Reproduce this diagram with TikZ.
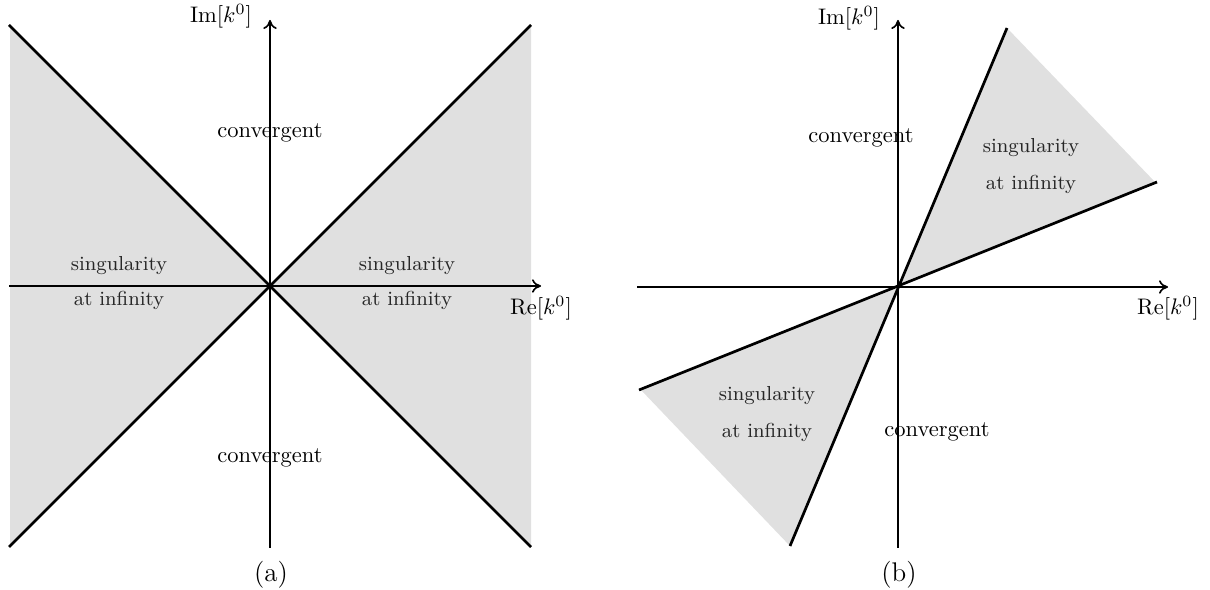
\documentclass[tikz,border=0pt]{standalone}
\usetikzlibrary{arrows.meta}
\begin{document}
\begin{tikzpicture}[x=0.4444pt,y=-0.4444pt,
  axis/.style={line width=0.75pt,-{To[length=4pt,width=6pt]}},
  bound/.style={line width=1.2pt},
  shade/.style={fill=black!12},
  lbl/.style={inner sep=0pt,font=\normalsize},
  sing/.style={inner sep=0pt,font=\small,text=black!85},
  captxt/.style={inner sep=0pt,font=\large}]
\useasboundingbox (0,0) rectangle (1210,590);
% ---------- (a) ----------
\coordinate (Oa) at (270,286);
\coordinate (a1) at (9,25);
\coordinate (a2) at (531,547);
\coordinate (a3) at (531,25);
\coordinate (a4) at (9,547);
\fill[shade] (Oa) -- (10,27) -- (10,545) -- cycle;
\fill[shade] (Oa) -- (531,27) -- (531,545) -- cycle;
\draw[bound] (a1) -- (a2);
\draw[bound] (a4) -- (a3);
\coordinate (ax1) at (9,286);
\coordinate (ax2) at (541,286);
\coordinate (ay1) at (270,548);
\coordinate (ay2) at (270,20);
\draw[axis] (ax1) -- (ax2);
\draw[axis] (ay1) -- (ay2);
\node[lbl] (ima) at (221,16) {$\mathrm{Im}[k^0]$};
\node[lbl] (rea) at (541,308) {$\mathrm{Re}[k^0]$};
\node[lbl] (ca1) at (270,133) {convergent};
\node[lbl] (ca2) at (270,458) {convergent};
\node[sing] (sa1) at (119,266) {singularity};
\node[sing] (ia1) at (119,300) {at infinity};
\node[sing] (sa2) at (407,266) {singularity};
\node[sing] (ia2) at (407,300) {at infinity};
\node[captxt] (capa) at (271,575) {(a)};
% ---------- (b) ----------
\coordinate (Ob) at (898,287);
\coordinate (b1) at (1007,28);
\coordinate (b2) at (790,546);
\coordinate (b3) at (1157,182);
\coordinate (b4) at (639,390);
\fill[shade] (Ob) -- (b1) -- (1155,182) -- cycle;
\fill[shade] (Ob) -- (641,390) -- (b2) -- cycle;
\draw[bound] (b1) -- (b2);
\draw[bound] (b3) -- (b4);
\coordinate (bx1) at (637,287);
\coordinate (bx2) at (1168,287);
\coordinate (by1) at (898,548);
\coordinate (by2) at (898,20);
\draw[axis] (bx1) -- (bx2);
\draw[axis] (by1) -- (by2);
\node[lbl] (imb) at (849,18) {$\mathrm{Im}[k^0]$};
\node[lbl] (reb) at (1168,308) {$\mathrm{Re}[k^0]$};
\node[lbl] (cb1) at (861,138) {convergent};
\node[lbl] (cb2) at (937,432) {convergent};
\node[sing] (sb1) at (1031,148) {singularity};
\node[sing] (ib1) at (1031,184) {at infinity};
\node[sing] (sb2) at (767,396) {singularity};
\node[sing] (ib2) at (767,432) {at infinity};
\node[captxt] (capb) at (899,575) {(b)};
\end{tikzpicture}
\end{document}
